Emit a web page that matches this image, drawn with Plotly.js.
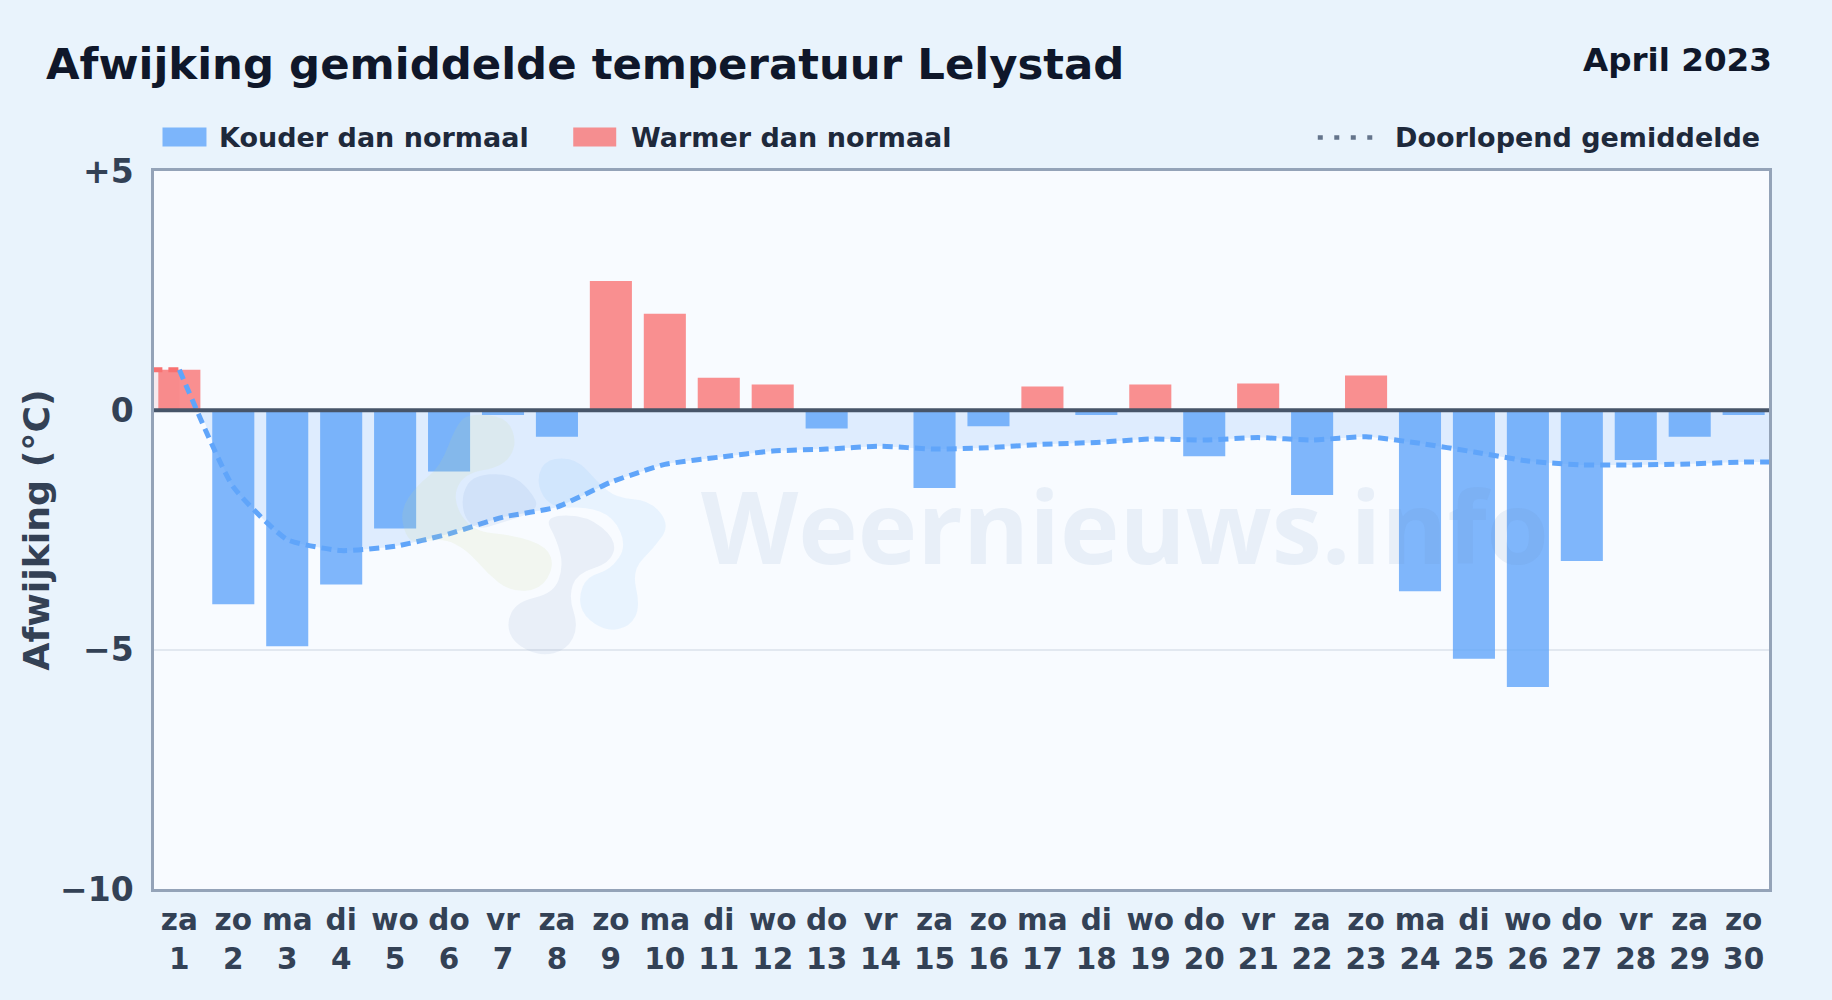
<!DOCTYPE html>
<html>
<head>
<meta charset="utf-8">
<script src="https://cdn.plot.ly/plotly-3.0.1.min.js"></script>
<style>html,body{margin:0;padding:0;background:#e9f3fc}#c{width:1832px;height:1000px}</style>
</head>
<body>
<div id="c"></div>
<script>
const days = [1,2,3,4,5,6,7,8,9,10,11,12,13,14,15,16,17,18,19,20,21,22,23,24,25,26,27,28,29,30];
const weekdays = ['za','zo','ma','di','wo','do','vr','za','zo','ma','di','wo','do','vr','za','zo','ma','di','wo','do','vr','za','zo','ma','di','wo','do','vr','za','zo'];
const deviation = [0.85,-4.05,-4.93,-3.64,-2.47,-1.28,-0.1,-0.55,2.7,2.02,0.68,0.54,-0.38,0,-1.62,-0.33,0.5,-0.1,0.54,-0.96,0.56,-1.77,0.73,-3.78,-5.19,-5.78,-3.15,-1.04,-0.55,-0.1];
const runningMean = [0.85,-1.6,-2.7,-2.93,-2.84,-2.58,-2.23,-2.02,-1.5,-1.13,-0.98,-0.85,-0.81,-0.75,-0.81,-0.78,-0.71,-0.67,-0.6,-0.62,-0.57,-0.62,-0.55,-0.69,-0.87,-1.06,-1.14,-1.14,-1.12,-1.08];
const yTickVals = [5,0,-5,-10];
const yTickText = ['+5','0','\u22125','\u221210'];

const coldDays = days.filter((d,i)=>deviation[i]<0), coldVals = deviation.filter(v=>v<0);
const warmDays = days.filter((d,i)=>deviation[i]>0), warmVals = deviation.filter(v=>v>0);
const dayLabels = days.map((d,i)=>weekdays[i]+'<br>'+d);

const W=1832,H=1000,L=153.5,R=1769.5,T=170.5,B=889.5;
const px = x=>(x-L)/(R-L), py = y=>1-(y-T)/(B-T);
const FONT='"DejaVu Sans", sans-serif';
const BLUE='#60a5fa', COLD='rgba(96,165,250,0.8)', WARM='rgba(248,113,113,0.78)';

// decorative watermark logo outlines, measured from a crop with origin (400,410) at 3x
const logoBlobs = [
 {c:'rgba(205,222,150,0.14)',p:[[210,10],[320,20],[352,100],[310,170],[190,190],[155,270],[215,365],[340,375],[440,410],[462,470],[420,540],[330,545],[260,490],[200,420],[130,385],[50,400],[15,380],[0,300],[50,225],[120,170],[170,40]]},
 {c:'rgba(120,160,220,0.13)',p:[[185,250],[220,195],[330,190],[390,240],[420,300],[300,340],[230,360],[190,320]]},
 {c:'rgba(110,135,185,0.10)',p:[[430,318],[560,315],[650,390],[630,460],[530,490],[505,560],[535,650],[500,720],[420,740],[340,700],[318,640],[350,575],[460,550],[490,470],[470,390]]},
 {c:'rgba(100,180,250,0.10)',p:[[410,200],[440,145],[530,145],[590,215],[650,265],[750,270],[810,345],[760,415],[695,480],[720,590],[690,650],[620,665],[550,620],[535,560],[560,500],[630,480],[680,410],[640,320],[560,290],[470,295],[425,260]]}
];
function blobPath(pts){
  const m=(a,b)=>[(a[0]+b[0])/2,(a[1]+b[1])/2];
  const P=p=>px(400+p[0]/3).toFixed(4)+','+py(410+p[1]/3).toFixed(4);
  let s='M'+P(m(pts[pts.length-1],pts[0]));
  pts.forEach((q,i)=>{s+=' Q'+P(q)+' '+P(m(q,pts[(i+1)%pts.length]));});
  return s+' Z';
}

const traces=[
 {type:'bar',name:'Kouder dan normaal',x:coldDays,y:coldVals,width:0.78,marker:{color:COLD,line:{width:0}},showlegend:false,hoverinfo:'x+y'},
 {type:'bar',name:'Warmer dan normaal',x:warmDays,y:warmVals,width:0.78,marker:{color:WARM,line:{width:0}},showlegend:false,hoverinfo:'x+y'},
 {type:'scatter',mode:'lines',name:'area',x:[1.38,...days.slice(1),30.5],y:[0,...runningMean.slice(1),runningMean[29]],line:{width:0,shape:'spline',smoothing:0.5},fill:'tozeroy',fillcolor:'rgba(96,165,250,0.17)',showlegend:false,hoverinfo:'skip'},
 {type:'scatter',mode:'lines',name:'warm start',x:[0.5,1],y:[runningMean[0],runningMean[0]],line:{color:'#f87171',width:5,dash:'10px,6px'},fill:'tozeroy',fillcolor:'rgba(248,113,113,0.12)',showlegend:false,hoverinfo:'skip'},
 {type:'scatter',mode:'lines',name:'Doorlopend gemiddelde',x:[...days,30.5],y:[...runningMean,runningMean[29]],line:{color:BLUE,width:5,dash:'10px,6px',shape:'spline',smoothing:0.5},showlegend:false}
];

const ann=(x,y,text,size,color,anchor='left',extra={})=>Object.assign({xref:'paper',yref:'paper',x:px(x),y:py(y),text,showarrow:false,xanchor:anchor,yanchor:'middle',font:{family:FONT,size,color,weight:700}},extra);

const layout={
 width:W,height:H,
 paper_bgcolor:'#e9f3fc',plot_bgcolor:'#f8fbff',
 margin:{l:L,r:W-R,t:T,b:H-B,pad:0},
 showlegend:false,bargap:0.22,barmode:'overlay',
 title:{text:'Afwijking gemiddelde temperatuur Lelystad',font:{family:FONT,size:43.4,color:'#0f172a',weight:700},x:46/W,xanchor:'left',xref:'container',y:1-64/H,yanchor:'middle',yref:'container'},
 xaxis:{range:[0.53,30.47],tickmode:'array',tickvals:days,ticktext:dayLabels,showgrid:false,zeroline:false,ticks:'',ticklabelstandoff:3,tickangle:0,
   tickfont:{family:FONT,size:29.5,color:'#334155',weight:700},showline:true,linecolor:'#94a3b8',linewidth:2.5,mirror:true},
 yaxis:{range:[-10,5],tickmode:'array',tickvals:yTickVals,ticktext:yTickText,showgrid:true,gridcolor:'#e2e8f0',gridwidth:1.5,zeroline:false,ticks:'',ticklabelstandoff:11,
   tickfont:{family:FONT,size:33,color:'#334155',weight:700},showline:true,linecolor:'#94a3b8',linewidth:2.5,mirror:true,
   title:{text:'Afwijking (\u00b0C)',font:{family:FONT,size:36.3,color:'#334155',weight:700},standoff:0}},
 shapes:[
  {type:'line',xref:'paper',yref:'y',x0:0,x1:1,y0:0,y1:0,line:{color:'#475569',width:4},layer:'above'},
  {type:'rect',xref:'paper',yref:'paper',x0:px(162),x1:px(206),y0:py(146),y1:py(127),fillcolor:COLD,line:{width:0}},
  {type:'rect',xref:'paper',yref:'paper',x0:px(573),x1:px(616),y0:py(146),y1:py(127),fillcolor:WARM,line:{width:0}},
  {type:'line',xref:'paper',yref:'paper',x0:px(1318),x1:px(1374),y0:py(137),y1:py(137),line:{color:'#64748b',width:4.5,dash:'5px,11.5px'}},
  ...logoBlobs.map(b=>({type:'path',xref:'paper',yref:'paper',path:blobPath(b.p),fillcolor:b.c,line:{width:0},layer:'above'}))
 ],
 annotations:[
  ann(1775,59,'April 2023',32.6,'#0f172a','right'),
  ann(217,137,'Kouder dan normaal',27,'#1e293b'),
  ann(629,137,'Warmer dan normaal',27,'#1e293b'),
  ann(1393,137,'Doorlopend gemiddelde',27,'#1e293b'),
  ann(1125,525,'Weernieuws.info',100.7,'rgba(100,140,190,0.1)','center',{font:{family:'"Open Sans", sans-serif',size:100.7,color:'rgba(100,140,190,0.1)',weight:700}})
 ]
};
Plotly.newPlot('c',traces,layout,{displayModeBar:false,responsive:false});
</script>
</body>
</html>
